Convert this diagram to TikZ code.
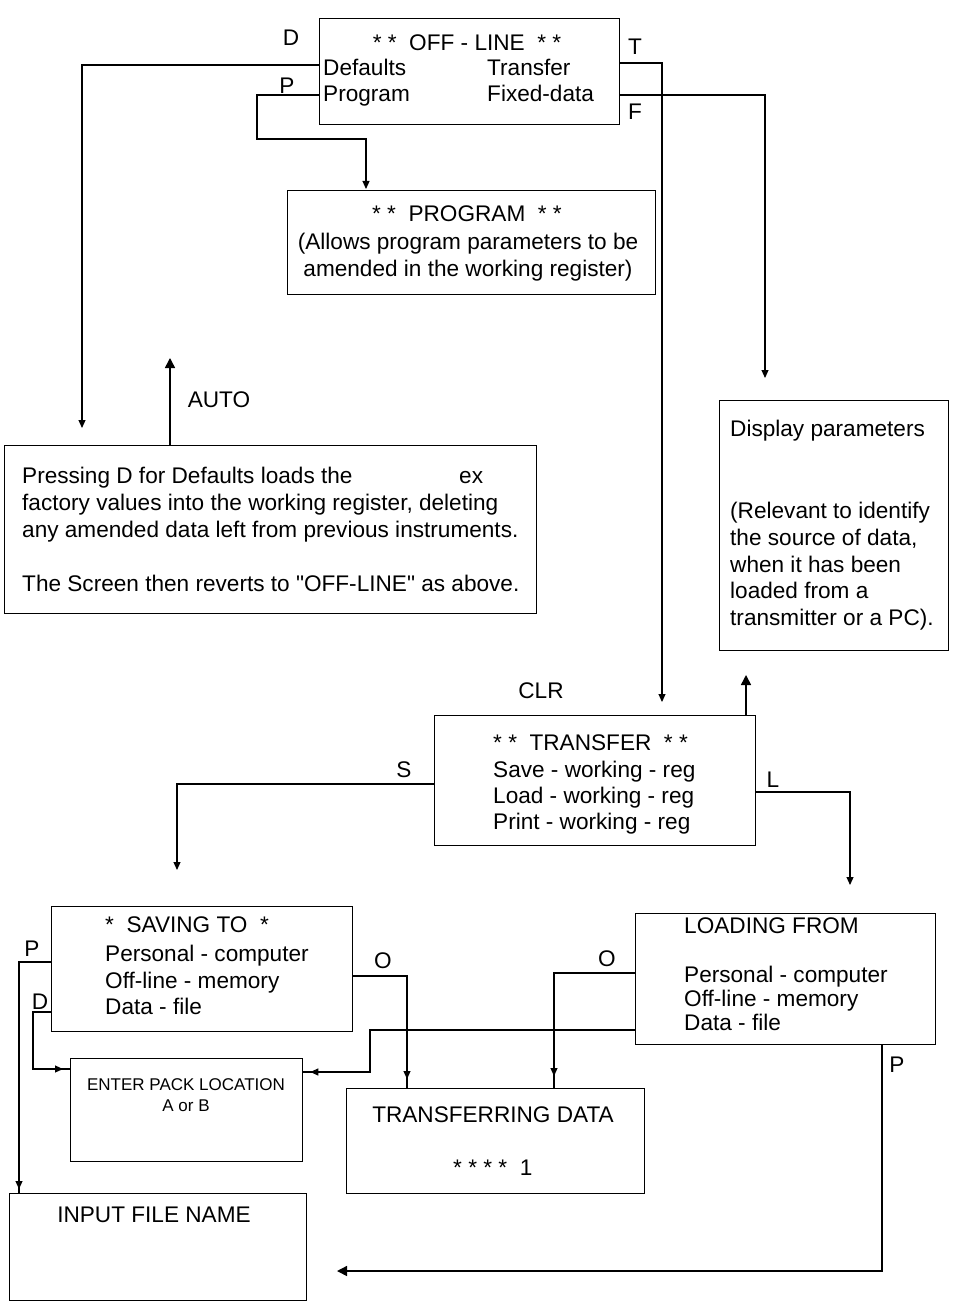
\documentclass[tikz,border=0pt]{standalone}
\usepackage{fontspec}
\setmainfont{Liberation Sans}[Ligatures=TeXOff]
\usetikzlibrary{arrows.meta,calc,decorations.markings}
\begin{document}
\begin{tikzpicture}[x=1pt,y=-1pt,
  box/.style={draw,line width=1.3pt,rectangle,inner sep=0pt,anchor=north west},
  txt/.style={inner sep=0pt,anchor=base west,font=\fontsize{22.6}{26}\selectfont},
  ctxt/.style={inner sep=0pt,anchor=base,font=\fontsize{22.6}{26}\selectfont},
  stxt/.style={inner sep=0pt,anchor=base,font=\fontsize{17}{20}\selectfont},
  lbl/.style={inner sep=0pt,anchor=base,font=\fontsize{22.6}{26}\selectfont},
  conn/.style={line width=1.1pt},
  arr/.style={conn,-{Triangle[length=8pt,width=7pt]}},
  bigarr/.style={line width=1.5pt,-{Triangle[length=10pt,width=10pt]}},
  tipat/.style={conn,postaction={decorate},decoration={markings,mark=at position #1 with {\arrow{Triangle[length=8pt,width=7pt]}}}},
]
\fill[white] (0,0) rectangle (959,1305);
\useasboundingbox (0,0) rectangle (959,1305);

% boxes
\node[box,minimum width=300pt,minimum height=106pt] (offline) at (319,18) {};
\node[box,minimum width=368pt,minimum height=104pt] (program) at (287,190) {};
\node[box,minimum width=532pt,minimum height=168pt] (defaults) at (4,445) {};
\node[box,minimum width=229pt,minimum height=250pt] (display) at (719,400) {};
\node[box,minimum width=321pt,minimum height=130pt] (transfer) at (434,715) {};
\node[box,minimum width=301pt,minimum height=125pt] (saving) at (51,906) {};
\node[box,minimum width=300pt,minimum height=131pt] (loading) at (635,913) {};
\node[box,minimum width=232pt,minimum height=103pt] (enterpack) at (70,1058) {};
\node[box,minimum width=298pt,minimum height=105pt] (transferring) at (346,1088) {};
\node[box,minimum width=297pt,minimum height=107pt] (inputfile) at (9,1193) {};

% OFF-LINE texts
\node[ctxt] (offt) at (467,51) {* *~~OFF - LINE~~* *};
\node[txt] (offd) at (323,76) {Defaults};
\node[txt] (offp) at (323,102) {Program};
\node[txt] (offtr) at (487,76) {Transfer};
\node[txt] (offf) at (487,102) {Fixed-data};

% PROGRAM texts
\node[ctxt] (prt) at (467,222) {* *~~PROGRAM~~* *};
\node[ctxt] (pr1) at (468,250) {(Allows program parameters to be};
\node[ctxt] (pr2) at (468,277) {amended in the working register)};

% Defaults texts
\node[txt] (df1) at (22,483) {Pressing D for Defaults loads the};
\node[txt] (dfex) at (459,483) {ex};
\node[txt] (df2) at (22,510) {factory values into the working register, deleting};
\node[txt] (df3) at (22,537) {any amended data left from previous instruments.};
\node[txt] (df4) at (22,591) {The Screen then reverts to "OFF-LINE" as above.};

% Display texts
\node[txt] (ds1) at (730,436) {Display parameters};
\node[txt] (ds2) at (730,518) {(Relevant to identify};
\node[txt] (ds3) at (730,545) {the source of data,};
\node[txt] (ds4) at (730,572) {when it has been};
\node[txt] (ds5) at (730,598) {loaded from a};
\node[txt] (ds6) at (730,625) {transmitter or a PC).};

% TRANSFER texts
\node[txt] (trt) at (493,750) {* *~~TRANSFER~~* *};
\node[txt] (tr1) at (493,777) {Save - working - reg};
\node[txt] (tr2) at (493,803) {Load - working - reg};
\node[txt] (tr3) at (493,829) {Print - working - reg};

% SAVING texts
\node[txt] (svt) at (105,932) {*~~SAVING TO~~*};
\node[txt] (sv1) at (105,961) {Personal - computer};
\node[txt] (sv2) at (105,988) {Off-line - memory};
\node[txt] (sv3) at (105,1014) {Data - file};

% LOADING texts
\node[txt] (ldt) at (684,933) {LOADING FROM};
\node[txt] (ld1) at (684,982) {Personal - computer};
\node[txt] (ld2) at (684,1006) {Off-line - memory};
\node[txt] (ld3) at (684,1030) {Data - file};

% ENTER PACK texts
\node[stxt] (ep1) at (186,1090) {ENTER PACK LOCATION};
\node[stxt] (ep2) at (186,1111) {A or B};

% TRANSFERRING texts
\node[ctxt] (tdt) at (493,1122) {TRANSFERRING DATA};
\node[txt] (tds) at (453,1175) {* * * *~~1};

% INPUT FILE NAME
\node[ctxt] (ift) at (154,1222) {INPUT FILE NAME};

% labels
\node[lbl] (lD) at (291,46) {D};
\node[lbl] (lP) at (287,94) {P};
\node[lbl] (lT) at (635,55) {T};
\node[lbl] (lF) at (635,120) {F};
\node[lbl] (lAUTO) at (219,407) {AUTO};
\node[lbl] (lCLR) at (541,698) {CLR};
\node[lbl] (lS) at (404,777) {S};
\node[lbl] (lL) at (773,787) {L};
\node[lbl] (lP2) at (32,956) {P};
\node[lbl] (lD2) at (40,1009) {D};
\node[lbl] (lO1) at (383,968) {O};
\node[lbl] (lO2) at (607,966) {O};
\node[lbl] (lP3) at (897,1072) {P};

% free ends
\coordinate (dEnd) at (82,428);
\coordinate (tEnd) at (662,702);
\coordinate (fEnd) at (765,378);
\coordinate (autoEnd) at (170,358);
\coordinate (dispEnd) at (746,675);
\coordinate (sEnd) at (177,870);
\coordinate (lEnd) at (850,885);
\coordinate (pEnd) at (337,1271);

% connectors
\draw[arr] ($(offline.north west)+(0,47)$) -| (dEnd);
\draw[arr] ($(offline.north west)+(0,77)$) -- ++(-62,0) |- ($(program.north west)+(79,-51)$) -- ($(program.north west)+(79,-1)$);
\draw[arr] ($(offline.north east)+(0,45)$) -| (tEnd);
\draw[arr] ($(offline.north east)+(0,77)$) -| (fEnd);
\draw[bigarr] ($(defaults.north west)+(166,0)$) -- (autoEnd);
\draw[bigarr] ($(transfer.north west)+(312,0)$) -- (dispEnd);
\draw[arr] ($(transfer.north west)+(0,69)$) -| (sEnd);
\draw[arr] ($(transfer.north east)+(0,77)$) -| (lEnd);
\draw[tipat=-4pt] ($(saving.north west)+(0,56)$) -| ($(inputfile.north west)+(10,0)$);
\draw[tipat=-7pt] ($(saving.north west)+(0,106)$) -- ++(-18,0) |- ($(enterpack.north west)+(0,11)$);
\draw[tipat=-9pt] ($(saving.north east)+(0,70)$) -| ($(transferring.north west)+(61,0)$);
\draw[tipat=-12pt] ($(loading.north west)+(0,60)$) -| ($(transferring.north west)+(208,0)$);
\draw[tipat=-7pt] ($(loading.north west)+(0,117)$) -- ++(-265,0) |- ($(enterpack.north east)+(0,14)$);
\draw[bigarr] ($(loading.south west)+(247,0)$) |- (pEnd);
\end{tikzpicture}
\end{document}
